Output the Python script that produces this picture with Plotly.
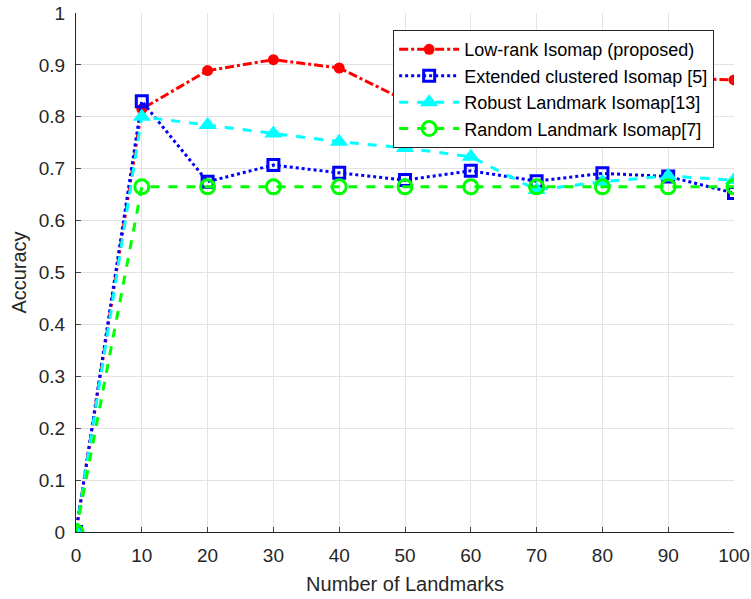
import plotly.graph_objects as go

landmarks = [0, 10, 20, 30, 40, 50, 60, 70, 80, 90, 100]
low_rank = [0.0, 0.815, 0.889, 0.910, 0.894, 0.832, 0.84, 0.85, 0.86, 0.875, 0.871]
extended = [0.0, 0.830, 0.675, 0.707, 0.692, 0.678, 0.696, 0.676, 0.691, 0.685, 0.653]
robust = [0.0, 0.800, 0.784, 0.768, 0.752, 0.740, 0.723, 0.659, 0.675, 0.686, 0.678]
random_lm = [0.0, 0.665, 0.665, 0.665, 0.665, 0.665, 0.665, 0.665, 0.665, 0.665, 0.665]

names = ["Low-rank Isomap (proposed)", "Extended clustered Isomap [5]",
         "Robust Landmark Isomap[13]", "Random Landmark Isomap[7]"]

x_ticks = list(range(0, 101, 10))
y_ticks = [round(0.1 * i, 1) for i in range(11)]
y_tick_text = ["0", "0.1", "0.2", "0.3", "0.4", "0.5", "0.6", "0.7", "0.8", "0.9", "1"]

fig = go.Figure()
fig.add_trace(go.Scatter(
    x=landmarks, y=low_rank, name=names[0], mode="lines+markers",
    line=dict(color="#ff0000", width=3, dash="dashdot"),
    marker=dict(symbol="circle", size=11, color="#ff0000")))
fig.add_trace(go.Scatter(
    x=landmarks, y=extended, name=names[1], mode="lines+markers",
    line=dict(color="#0000ff", width=3, dash="dot"),
    marker=dict(symbol="square-open", size=11, color="#0000ff", line=dict(width=3))))
fig.add_trace(go.Scatter(
    x=landmarks, y=robust, name=names[2], mode="lines+markers",
    line=dict(color="#00ffff", width=3, dash="dash"),
    marker=dict(symbol="triangle-up", size=16, color="#00ffff")))
fig.add_trace(go.Scatter(
    x=landmarks, y=random_lm, name=names[3], mode="lines+markers",
    line=dict(color="#00ff00", width=3, dash="dash"),
    marker=dict(symbol="circle-open", size=14, color="#00ff00", line=dict(width=3))))

fig.update_layout(
    width=751, height=599,
    margin=dict(l=76, r=17, t=13, b=67),
    paper_bgcolor="white", plot_bgcolor="white",
    font=dict(family="Liberation Sans, Arial, sans-serif", size=19, color="#262626"),
    showlegend=True,
    legend=dict(x=0.482, y=0.967, xanchor="left", yanchor="top",
                bgcolor="white", bordercolor="#262626", borderwidth=1,
                font=dict(size=18, color="#000000"), tracegroupgap=0,
                itemwidth=60),
    xaxis=dict(range=[0, 100], tickvals=x_ticks, ticks="inside", ticklen=5,
               showline=True, linecolor="#262626", linewidth=1, mirror=False,
               showgrid=True, gridcolor="#e3e3e3", gridwidth=1, zeroline=False,
               automargin=False, ticklabelstandoff=6,
               title=dict(text="Number of Landmarks", font=dict(size=20), standoff=12),
               tickfont=dict(size=19)),
    yaxis=dict(range=[0, 1], tickvals=y_ticks, ticktext=y_tick_text, ticks="inside", ticklen=5,
               showline=True, linecolor="#262626", linewidth=1, mirror=False,
               showgrid=True, gridcolor="#e3e3e3", gridwidth=1, zeroline=False,
               automargin=False, ticklabelstandoff=6,
               title=dict(text="Accuracy", font=dict(size=20), standoff=6),
               tickfont=dict(size=19)),
)

fig.write_html("out.html", config={"displayModeBar": False},
               post_script="document.body.style.margin='0';")
